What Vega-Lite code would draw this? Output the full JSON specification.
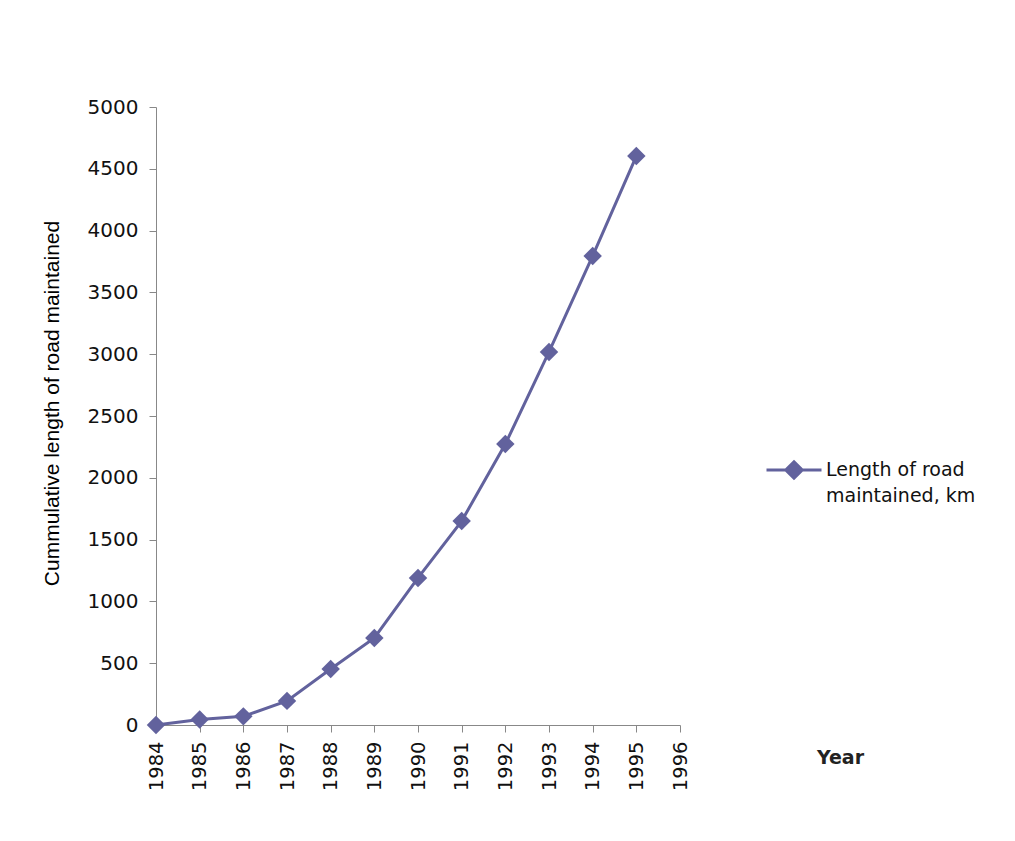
{
  "$schema": "https://vega.github.io/schema/vega-lite/v6.json",
  "width": 524,
  "height": 618,
  "autosize": {"type": "none"},
  "padding": {"left": 156, "top": 107, "right": 335, "bottom": 116},
  "background": "white",
  "config": {"view": {"stroke": null}},
  "data": {"values": [
    {"year": 1984, "length": 0, "series": "Length of road maintained, km"},
    {"year": 1985, "length": 45, "series": "Length of road maintained, km"},
    {"year": 1986, "length": 70, "series": "Length of road maintained, km"},
    {"year": 1987, "length": 195, "series": "Length of road maintained, km"},
    {"year": 1988, "length": 453, "series": "Length of road maintained, km"},
    {"year": 1989, "length": 704, "series": "Length of road maintained, km"},
    {"year": 1990, "length": 1190, "series": "Length of road maintained, km"},
    {"year": 1991, "length": 1650, "series": "Length of road maintained, km"},
    {"year": 1992, "length": 2273, "series": "Length of road maintained, km"},
    {"year": 1993, "length": 3018, "series": "Length of road maintained, km"},
    {"year": 1994, "length": 3795, "series": "Length of road maintained, km"},
    {"year": 1995, "length": 4603, "series": "Length of road maintained, km"}
  ]},
  "mark": {"type": "line", "strokeWidth": 3, "point": {"shape": "diamond", "size": 340, "filled": true, "opacity": 1}},
  "encoding": {
    "x": {
      "field": "year", "type": "quantitative",
      "scale": {"domain": [1984, 1996], "nice": false, "zero": false},
      "axis": {
        "values": [1984, 1985, 1986, 1987, 1988, 1989, 1990, 1991, 1992, 1993, 1994, 1995, 1996],
        "format": "d", "labelAngle": 270, "grid": false,
        "labelFont": "DejaVu Sans", "labelFontSize": 19.5, "labelColor": "#111111",
        "labelPadding": 9, "tickSize": 7, "tickColor": "#888888", "domainColor": "#888888",
        "labelOverlap": false, "labelFlush": false,
        "title": "Year", "titleFont": "DejaVu Sans", "titleFontSize": 19, "titleFontWeight": "bold",
        "titleColor": "#222222", "titleX": 684, "titleY": 32, "titleAlign": "center", "titleBaseline": "middle"
      }
    },
    "y": {
      "field": "length", "type": "quantitative",
      "scale": {"domain": [0, 5000], "nice": false},
      "axis": {
        "values": [0, 500, 1000, 1500, 2000, 2500, 3000, 3500, 4000, 4500, 5000],
        "format": "d",
        "grid": false, "labelFont": "DejaVu Sans", "labelFontSize": 20, "labelColor": "#111111",
        "labelPadding": 11, "tickSize": 7, "tickColor": "#888888", "domainColor": "#888888",
        "title": "Cummulative length of road maintained", "titleFont": "Liberation Sans", "titleFontSize": 21,
        "titleFontWeight": "normal", "titleColor": "#000000", "titleAngle": -90,
        "titleX": -104, "titleY": 296, "titleAlign": "center", "titleBaseline": "middle"
      }
    },
    "color": {
      "field": "series", "type": "nominal",
      "scale": {"range": ["#62629D"]},
      "legend": {
        "title": null, "orient": "none", "legendX": 609, "legendY": 334,
        "symbolType": "M-1,0L1,0M0,-0.3L0.3,0L0,0.3L-0.3,0Z",
        "symbolSize": 3025, "symbolStrokeWidth": 3, "symbolFillColor": "#62629D", "symbolStrokeColor": "#62629D",
        "labelExpr": "['Length of road', 'maintained, km']",
        "labelFont": "DejaVu Sans", "labelFontSize": 19, "labelColor": "#111111",
        "labelBaseline": "middle", "labelOffset": 3, "labelLimit": 300,
        "encode": {"labels": {"update": {"lineHeight": {"value": 26}}}}
      }
    }
  }
}
